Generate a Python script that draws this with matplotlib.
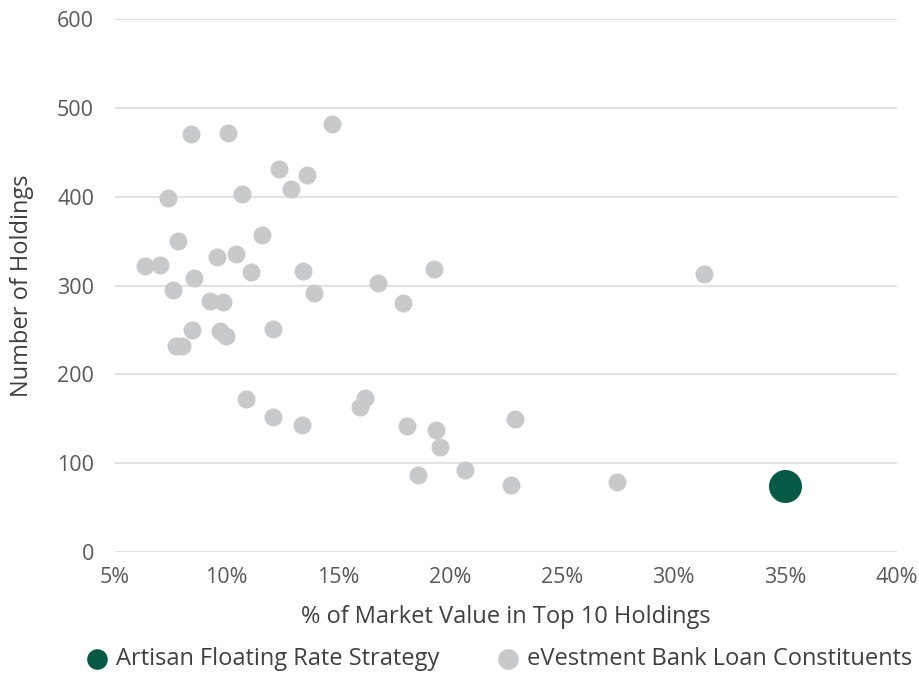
import matplotlib.pyplot as plt
from matplotlib.ticker import FuncFormatter

# eVestment constituents: % of market value in top 10 holdings vs number of holdings
peer_pct = [8.40, 10.07, 14.73, 12.35, 13.62, 12.86, 7.39, 10.68, 11.58, 7.82,
            9.55, 10.40, 6.34, 7.01, 8.52, 11.09, 13.42, 7.61, 13.91, 9.25,
            9.85, 8.45, 9.70, 9.97, 12.07, 7.75, 8.00, 10.88, 12.06, 13.37,
            16.77, 19.28, 17.91, 16.19, 15.97, 18.07, 19.35, 19.57, 22.89, 18.58,
            20.67, 22.73, 27.46, 31.37]
peer_holdings = [470, 472, 482, 431, 424, 409, 399, 403, 357, 350,
                 332, 336, 322, 323, 309, 315, 316, 295, 292, 283,
                 282, 250, 249, 243, 251, 232, 232, 172, 152, 143,
                 303, 319, 280, 173, 163, 142, 138, 118, 150, 87,
                 92, 75, 79, 313]

artisan_pct = [35.0]
artisan_holdings = [74]

GREEN = '#045A45'
GREY = '#C8C9CB'

plt.rcParams['font.family'] = ['Open Sans', 'DejaVu Sans']

fig = plt.figure(figsize=(9.19, 6.75), dpi=100)
ax = fig.add_axes([0.125, 0.182, 0.851, 0.790])

ax.scatter(peer_pct, peer_holdings, s=168, color=GREY, linewidths=0, zorder=3,
           label='eVestment Bank Loan Constituents')
ax.scatter(artisan_pct, artisan_holdings, s=565, color=GREEN, linewidths=0, zorder=4,
           label='Artisan Floating Rate Strategy')

ax.set_xlim(5, 40)
ax.set_ylim(0, 600)
ax.set_xticks(range(5, 41, 5))
ax.set_yticks(range(0, 601, 100))
ax.xaxis.set_major_formatter(FuncFormatter(lambda v, p: '%d%%' % v))

ax.grid(axis='y', color='#E2E2E2', linewidth=1.5, zorder=0)
ax.set_axisbelow(True)
for s in ax.spines.values():
    s.set_visible(False)
ax.tick_params(length=0, labelsize=15.5, colors='#595959')
ax.tick_params(axis='x', pad=11)
ax.tick_params(axis='y', pad=15)

ax.set_xlabel('% of Market Value in Top 10 Holdings', fontsize=17, color='#404040')
ax.xaxis.set_label_coords(0.5, -0.100)
ax.set_ylabel('Number of Holdings', fontsize=17, color='#404040')
ax.yaxis.set_label_coords(-0.104, 0.5)

handles, labels = ax.get_legend_handles_labels()
leg = fig.legend(handles[::-1], labels[::-1], loc='center', bbox_to_anchor=(0.543, 0.024),
                 ncol=2, frameon=False, fontsize=17, handlelength=1.0, handletextpad=0.3,
                 columnspacing=2.4, borderpad=0, borderaxespad=0)
for h in leg.legend_handles:
    h.set_sizes([220])
for t in leg.get_texts():
    t.set_color('#404040')

fig.savefig('out.png', dpi=100)
